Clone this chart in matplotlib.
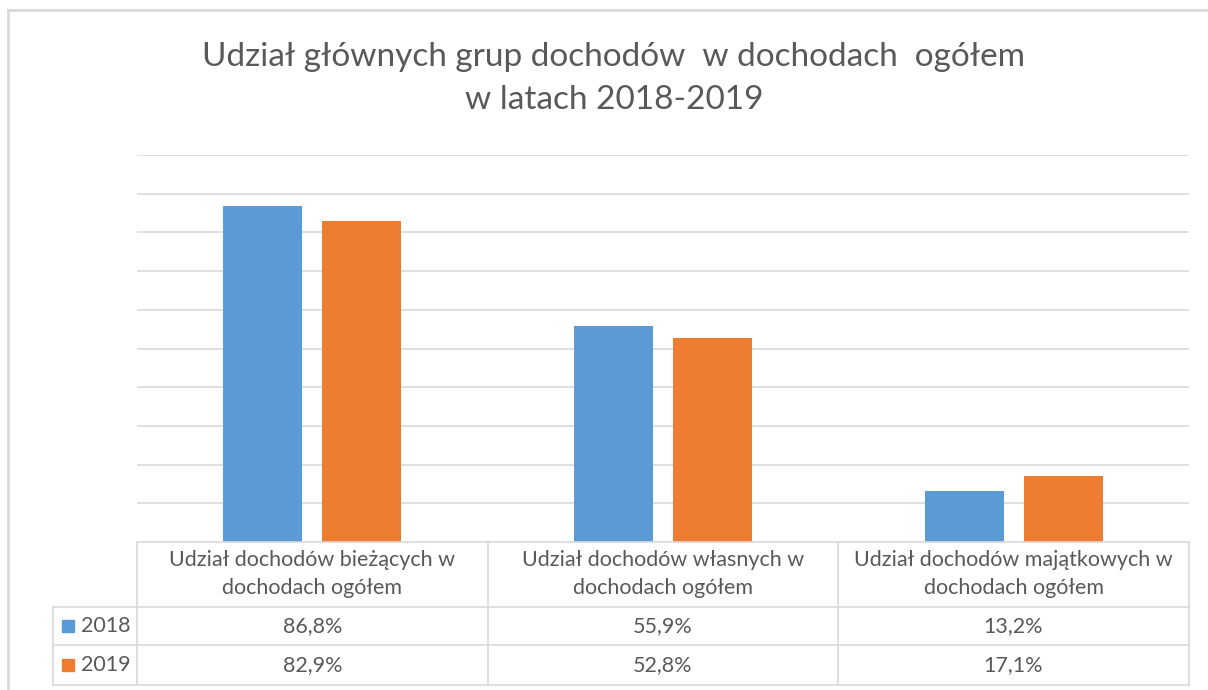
import numpy as np
import matplotlib.pyplot as plt
from matplotlib.lines import Line2D
from matplotlib.patches import Rectangle

# Data
categories = ['Udział dochodów bieżących w\ndochodach ogółem',
              'Udział dochodów własnych w\ndochodach ogółem',
              'Udział dochodów majątkowych w\ndochodach ogółem']
years = ['2018', '2019']
values_2018 = [86.8, 55.9, 13.2]
values_2019 = [82.9, 52.8, 17.1]
labels_2018 = ['86,8%', '55,9%', '13,2%']
labels_2019 = ['82,9%', '52,8%', '17,1%']

blue = '#5b9bd5'
orange = '#ed7d31'
grid_c = '#d9d9d9'
text_c = '#595959'

plt.rcParams['font.family'] = ['Lato', 'DejaVu Sans']

W, H = 1208, 690
fig = plt.figure(figsize=(W / 100, H / 100), dpi=100)

def fx(px):
    return px / W

def fy(py):
    return 1 - py / H

# outer chart frame (cropped on right/bottom)
fig.add_artist(Line2D([fx(8), fx(8)], [fy(10), fy(700)], color=grid_c, lw=2))
fig.add_artist(Line2D([fx(8), fx(1220)], [fy(10), fy(10)], color=grid_c, lw=2))

# title
fig.text(fx(614), fy(57), 'Udział głównych grup dochodów  w dochodach  ogółem',
         ha='center', va='center', fontsize=24, color=text_c)
fig.text(fx(614), fy(100), 'w latach 2018-2019',
         ha='center', va='center', fontsize=24, color=text_c)

# plot area
x0, x1, ytop, ybot = 137, 1189, 155, 542
ax = fig.add_axes([fx(x0), fy(ybot), fx(x1 - x0), (ybot - ytop) / H])
x = np.arange(len(categories))
bw = 0.225
off = 0.141
ax.bar(x - off, values_2018, bw, color=blue, zorder=3)
ax.bar(x + off, values_2019, bw, color=orange, zorder=3)
ax.set_xlim(-0.5, len(categories) - 0.5)
ax.set_ylim(0, 100)
ax.set_yticks(np.arange(10, 101, 10))
ax.yaxis.grid(True, color=grid_c, lw=1.2, zorder=0)
ax.tick_params(left=False, bottom=False, labelleft=False, labelbottom=False)
for s in ax.spines.values():
    s.set_visible(False)

# data table
col_edges = [137, 488, 838, 1189]
left_edge = 53
r_head, r1, r2, r3 = 542, 607, 645, 685
lw = 1.2
fig.add_artist(Line2D([fx(x0), fx(x1)], [fy(r_head), fy(r_head)], color=grid_c, lw=lw))
for r in [r1, r2, r3]:
    fig.add_artist(Line2D([fx(left_edge), fx(x1)], [fy(r), fy(r)], color=grid_c, lw=lw))
for c in col_edges:
    fig.add_artist(Line2D([fx(c), fx(c)], [fy(r_head), fy(r3)], color=grid_c, lw=lw))
fig.add_artist(Line2D([fx(left_edge), fx(left_edge)], [fy(r1), fy(r3)], color=grid_c, lw=lw))

fs = 15.5
for i, cat in enumerate(categories):
    cx = (col_edges[i] + col_edges[i + 1]) / 2
    fig.text(fx(cx), fy((r_head + r1) / 2), cat, ha='center', va='center',
             fontsize=fs, color=text_c, linespacing=1.5)
    fig.text(fx(cx), fy((r1 + r2) / 2), labels_2018[i], ha='center', va='center',
             fontsize=fs, color=text_c)
    fig.text(fx(cx), fy((r2 + r3) / 2), labels_2019[i], ha='center', va='center',
             fontsize=fs, color=text_c)

for yr, col, (ra, rb) in [(years[0], blue, (r1, r2)), (years[1], orange, (r2, r3))]:
    cy = (ra + rb) / 2
    fig.add_artist(Rectangle((fx(62), fy(cy + 6)), fx(12), 12 / H, color=col))
    fig.text(fx(81), fy(cy), yr, ha='left', va='center', fontsize=fs, color=text_c)

fig.savefig('out.png', dpi=100, facecolor='white')
